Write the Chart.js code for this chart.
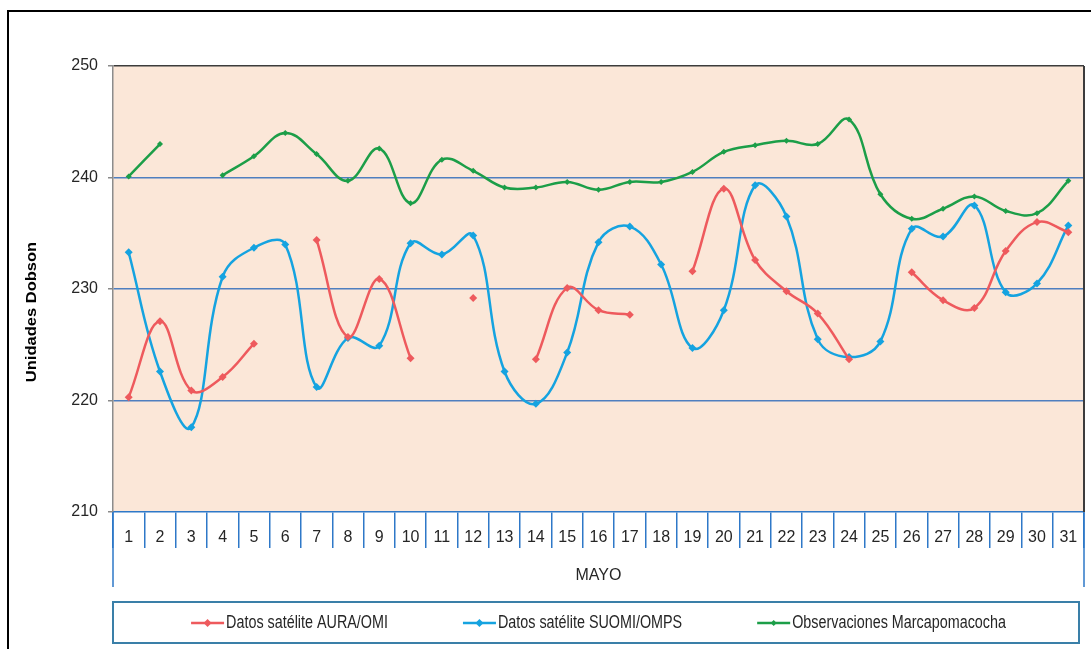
<!DOCTYPE html>
<html>
<head>
<meta charset="utf-8">
<script src="https://cdn.jsdelivr.net/npm/chart.js@4/dist/chart.umd.min.js"></script>
<style>
  html, body { margin: 0; padding: 0; background: #fff; }
  canvas { display: block; }
</style>
</head>
<body>
<canvas id="c" width="1091" height="649"></canvas>
<script>
// Days of May
const days = ['1','2','3','4','5','6','7','8','9','10','11','12','13','14','15','16',
              '17','18','19','20','21','22','23','24','25','26','27','28','29','30','31'];

// Total ozone column (Dobson units); null = no data that day
const auraOmi = [220.3, 227.1, 220.9, 222.1, 225.1, null, 234.4, 225.7, 230.9, 223.8,
                 null, 229.2, null, 223.7, 230.1, 228.1, 227.7, null, 231.6, 239.0,
                 232.6, 229.8, 227.8, 223.7, null, 231.5, 229.0, 228.3, 233.4, 236.0, 235.1];

const suomiOmps = [233.3, 222.6, 217.6, 231.1, 233.7, 234.0, 221.2, 225.6, 224.9, 234.1,
                   233.1, 234.8, 222.6, 219.7, 224.3, 234.2, 235.6, 232.2, 224.7, 228.1,
                   239.3, 236.5, 225.5, 223.9, 225.3, 235.4, 234.7, 237.5, 229.7, 230.5, 235.7];

const marcapomacocha = [240.1, 243.0, null, 240.2, 241.9, 244.0, 242.1, 239.7, 242.6, 237.7,
                        241.6, 240.6, 239.1, 239.1, 239.6, 238.9, 239.6, 239.6, 240.5, 242.3,
                        242.9, 243.3, 243.0, 245.2, 238.5, 236.3, 237.2, 238.3, 237.0, 236.8, 239.7];

const yTicks = [210, 220, 230, 240, 250];
const seriesNames = ['Datos satélite AURA/OMI', 'Datos satélite SUOMI/OMPS', 'Observaciones Marcapomacocha'];
const xTitle = 'MAYO';
const yTitle = 'Unidades Dobson';

const FONT = '"Liberation Sans", Arial, sans-serif';
const TEXT = '#262626';
const AXIS_BLUE = '#2E78C8';
const GRID_BLUE = '#4F7FBF';

// Plot background, borders, extended category dividers, frame, y title and legend
const decor = {
  id: 'decor',
  beforeDraw(chart) {
    const { ctx, chartArea: a } = chart;
    ctx.save();
    ctx.fillStyle = '#ffffff';
    ctx.fillRect(0, 0, chart.width, chart.height);
    ctx.fillStyle = '#FBE7D8';
    ctx.fillRect(a.left, a.top, a.right - a.left, a.bottom - a.top);
    ctx.restore();
  },
  beforeDatasetsDraw(chart) {
    const { ctx, chartArea: a } = chart;
    ctx.save();
    ctx.strokeStyle = '#3c3c3c';
    ctx.lineWidth = 2;
    ctx.beginPath();
    ctx.moveTo(a.right, a.top);
    ctx.lineTo(a.right, a.bottom);
    ctx.stroke();
    // outer category dividers reach down to the group label row
    ctx.strokeStyle = AXIS_BLUE;
    ctx.lineWidth = 1.5;
    ctx.beginPath();
    [a.left, a.right].forEach(px => {
      ctx.moveTo(px, a.bottom);
      ctx.lineTo(px, 587);
    });
    ctx.stroke();
    ctx.restore();
  },
  afterDraw(chart) {
    const { ctx, chartArea: a } = chart;
    ctx.save();
    // outer frame
    ctx.strokeStyle = '#000';
    ctx.lineWidth = 2;
    ctx.beginPath();
    ctx.moveTo(8, chart.height + 5);
    ctx.lineTo(8, 11);
    ctx.lineTo(chart.width + 5, 11);
    ctx.stroke();

    // y-axis title, rotated and slightly condensed
    ctx.translate(32, 312);
    ctx.rotate(-Math.PI / 2);
    ctx.scale(1, 0.85);
    ctx.font = 'bold 16.5px ' + FONT;
    ctx.fillStyle = '#000';
    ctx.textAlign = 'center';
    ctx.textBaseline = 'middle';
    ctx.fillText(yTitle, 0, 0);
    ctx.restore();

    // legend box
    ctx.save();
    ctx.strokeStyle = '#3A7FA8';
    ctx.lineWidth = 2;
    ctx.strokeRect(113, 602, 1079 - 113, 41);
    const SQ = 0.82;          // horizontal condensing of legend text
    ctx.font = '17.5px ' + FONT;
    ctx.textBaseline = 'middle';
    ctx.textAlign = 'left';
    const lineLen = 33, gap = 2, spacing = 75, cy = 623;
    const items = chart.data.datasets.map(ds => ({
      label: ds.label, color: ds.borderColor, r: ds.pointRadius,
      tw: ctx.measureText(ds.label).width * SQ
    }));
    items.forEach(it => { it.w = lineLen + gap + it.tw; });
    const total = items.reduce((s, it) => s + it.w, 0) + spacing * (items.length - 1);
    let x = (a.left + a.right) / 2 - total / 2;
    items.forEach(it => {
      ctx.strokeStyle = it.color;
      ctx.lineWidth = 2.5;
      ctx.beginPath();
      ctx.moveTo(x, cy);
      ctx.lineTo(x + lineLen, cy);
      ctx.stroke();
      const mx = x + lineLen / 2, r = it.r;
      ctx.fillStyle = it.color;
      ctx.beginPath();
      ctx.moveTo(mx, cy - r);
      ctx.lineTo(mx + r, cy);
      ctx.lineTo(mx, cy + r);
      ctx.lineTo(mx - r, cy);
      ctx.closePath();
      ctx.fill();
      ctx.save();
      ctx.translate(x + lineLen + gap, cy);
      ctx.scale(SQ, 1);
      ctx.fillStyle = TEXT;
      ctx.fillText(it.label, 0, 0);
      ctx.restore();
      x += it.w + spacing;
    });
    ctx.restore();
  }
};

function series(label, data, color, radius) {
  return {
    label, data,
    borderColor: color,
    backgroundColor: color,
    borderWidth: 2.5,
    pointStyle: 'rectRot',
    pointRadius: radius,
    pointBorderWidth: 0,
    pointBackgroundColor: color,
    tension: 0.4,
    spanGaps: false,
    fill: false
  };
}

new Chart(document.getElementById('c'), {
  type: 'line',
  data: {
    labels: days,
    datasets: [
      series(seriesNames[0], auraOmi, '#EE5A5D', 4),
      series(seriesNames[1], suomiOmps, '#15A3E0', 4),
      series(seriesNames[2], marcapomacocha, '#1C9E48', 3)
    ]
  },
  options: {
    responsive: false,
    animation: false,
    devicePixelRatio: 1,
    layout: { padding: { left: 8, top: 66, right: 7, bottom: 57 } },
    plugins: { legend: { display: false }, tooltip: { enabled: false } },
    scales: {
      x: {
        type: 'category',
        offset: true,
        afterFit(scale) { scale.height = 80; },
        grid: {
          offset: true,
          drawOnChartArea: false,
          tickLength: 36,
          color: AXIS_BLUE,
          lineWidth: 1.5
        },
        border: { color: AXIS_BLUE, width: 1.5 },
        ticks: {
          autoSkip: false,
          maxRotation: 0,
          padding: -20.5,
          color: TEXT,
          font: { family: FONT, size: 16 }
        },
        title: {
          display: true,
          text: xTitle,
          color: TEXT,
          font: { family: FONT, size: 16 },
          padding: { top: 0, bottom: 6.5 }
        }
      },
      y: {
        min: 210,
        max: 250,
        afterFit(scale) { scale.width = 105; },
        afterBuildTicks(scale) { scale.ticks = yTicks.map(v => ({ value: v })); },
        grid: {
          tickLength: 5,
          tickColor: '#8a8a8a',
          lineWidth: 1.5,
          color: ctx => {
            const v = ctx.tick ? ctx.tick.value : null;
            if (v === 250) return '#3c3c3c';
            if (v === 210) return 'rgba(0,0,0,0)';
            return GRID_BLUE;
          }
        },
        border: { color: '#8c8c8c', width: 1.5 },
        ticks: {
          padding: 10,
          color: TEXT,
          font: { family: FONT, size: 16 }
        }
      }
    }
  },
  plugins: [decor]
});
</script>
</body>
</html>
